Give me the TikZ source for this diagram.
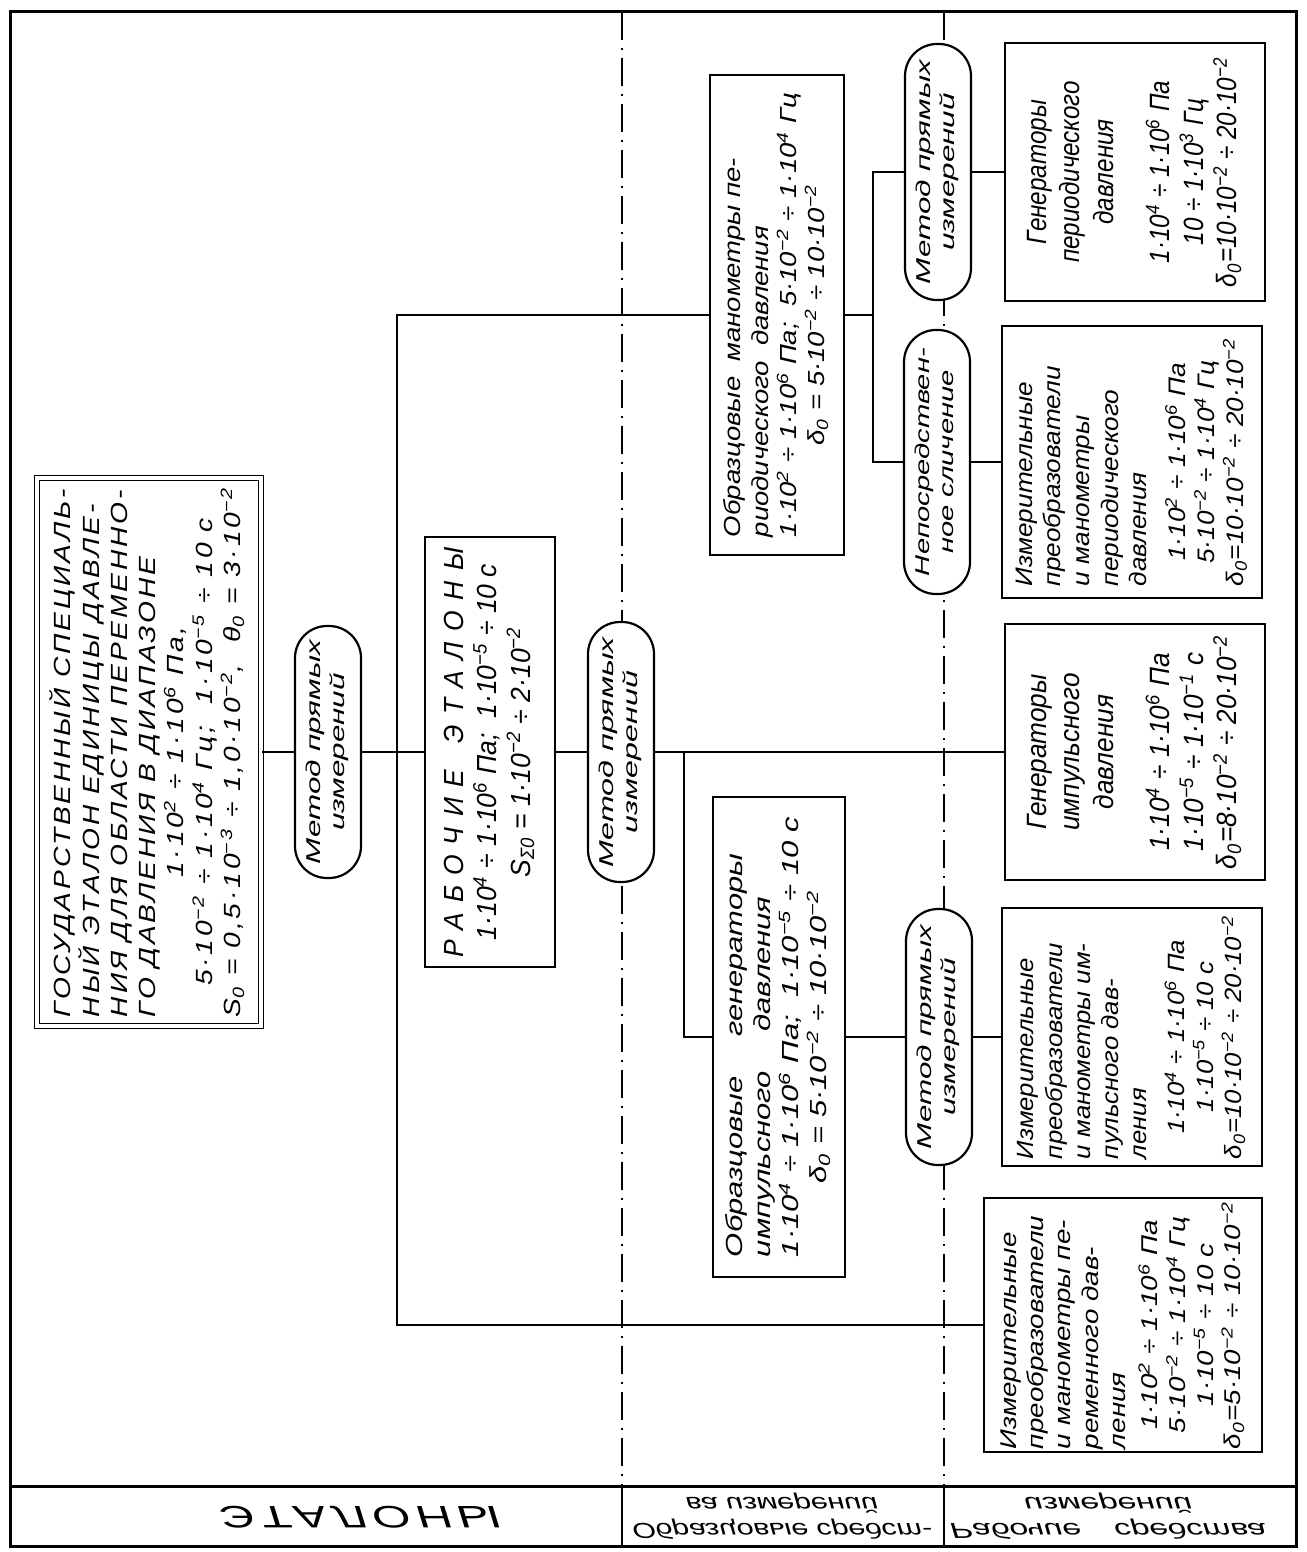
\documentclass[tikz,border=0pt]{standalone}
\usepackage{fontspec}
\usepackage{graphicx}
\setmainfont{Liberation Sans}

\newcommand{\tp}[1]{·10\textsuperscript{#1}}
\newcommand{\dz}{δ\textsubscript{0}}
\newcommand{\fm}[1]{\multicolumn{1}{@{}c@{}}{#1}}
\newcommand{\blk}[4]{\rotatebox{90}{\resizebox*{#1}{#2}{\begin{tabular}{@{}#3@{}}#4\end{tabular}}}}
\newcommand{\flip}[1]{\scalebox{1}[-1]{#1}}

\begin{document}
\begin{tikzpicture}[x=0.5pt,y=-0.5pt,
    font=\itshape\fontsize{10}{12}\selectfont,
    box/.style={draw,line width=1.3pt,fill=white,inner sep=0pt},
    oval/.style={draw,line width=1.1pt,fill=white,inner sep=0pt,
        rounded corners=16pt,minimum width=33pt,minimum height=128pt},
    link/.style={line width=1pt},
    border/.style={line width=1.5pt},
    axis/.style={line width=0.8pt,dash pattern=on 14pt off 4pt on 1pt off 4pt}]
    \useasboundingbox (0,0) rectangle (1306,1552);

    % frame and columns
    \draw[border] (10,12) rectangle (1296,1546);
    \draw[border] (10,1486) -- (1296,1486);
    \draw[axis] (622,12) -- (622,1486);
    \draw[axis] (944,12) -- (944,1486);
    \draw[link] (622,1486) -- (622,1546);
    \draw[link] (944,1486) -- (944,1546);

    \node (et) at (360,1517)
        {\flip{\resizebox*{140pt}{11pt}{\addfontfeatures{LetterSpace=12}ЭТАЛОНЫ}}};
    \node (obrl) at (782,1516)
        {\flip{\resizebox*{150pt}{26pt}{\begin{tabular}{@{}c@{}}Образцовые средст-\\ва измерений\end{tabular}}}};
    \node (rabl) at (1108,1516)
        {\flip{\resizebox*{158pt}{26pt}{\begin{tabular}{@{}c@{}}Рабочие\quad средства\\измерений\end{tabular}}}};

    % standards
    \node[box,double,double distance=1.6pt,line width=0.9pt,minimum width=112pt,minimum height=274pt,
        font=\itshape\fontsize{10}{12}\selectfont\addfontfeatures{LetterSpace=10}] (gos) at (149,752)
        {\blk{265pt}{100pt}{l}{ГОСУДАРСТВЕННЫЙ СПЕЦИАЛЬ-\\НЫЙ ЭТАЛОН ЕДИНИЦЫ ДАВЛЕ-\\НИЯ ДЛЯ ОБЛАСТИ ПЕРЕМЕННО-\\ГО ДАВЛЕНИЯ В ДИАПАЗОНЕ\\
        \fm{1\tp{2} ÷ 1\tp{6} Па,}\\\fm{5\tp{−2} ÷ 1\tp{4} Гц; \ 1\tp{−5} ÷ 10 с}\\
        \fm{S\textsubscript{0} = 0,5\tp{−3} ÷ 1,0\tp{−2}, \ θ\textsubscript{0} = 3\tp{−2}}}};
    \node[oval,minimum height=126pt] (m1) at (328,752) {\blk{112pt}{24pt}{c}{Метод прямых\\измерений}};
    \node[box,minimum width=65pt,minimum height=215pt] (rab) at (490,752)
        {\blk{205pt}{50pt}{c}{{\addfontfeatures{LetterSpace=40}РАБОЧИЕ\quad ЭТАЛОНЫ}\\
        1\tp{4} ÷ 1\tp{6} Па; \ 1\tp{−5} ÷ 10 с\\S\textsubscript{Σ0} = 1\tp{−2} ÷ 2\tp{−2}}};
    \node[oval,minimum height=130pt] (m2) at (621,752) {\blk{115pt}{24pt}{c}{Метод прямых\\измерений}};

    % secondary standards
    \node[box,minimum width=67pt,minimum height=240pt] (obrman) at (777,315)
        {\blk{222pt}{56pt}{l}{Образцовые \ манометры пе-\\риодического \ давления\\
        \fm{1\tp{2} ÷ 1\tp{6} Па; \ 5\tp{−2} ÷ 1\tp{4} Гц}\\\fm{\dz{} = 5\tp{−2} ÷ 10\tp{−2}}}};
    \node[box,minimum width=66pt,minimum height=240pt] (obrgen) at (779,1037)
        {\blk{220pt}{56pt}{l}{Образцовые \quad генераторы\\импульсного \quad давления\\
        \fm{1\tp{4} ÷ 1\tp{6} Па; \ 1\tp{−5} ÷ 10 с}\\\fm{\dz{} = 5\tp{−2} ÷ 10\tp{−2}}}};
    \node[oval] (m4) at (938,172) {\blk{112pt}{24pt}{c}{Метод прямых\\измерений}};
    \node[oval,minimum height=132pt] (m5) at (937,462) {\blk{114pt}{24pt}{c}{Непосредствен-\\ное сличение}};
    \node[oval] (m3) at (939,1037) {\blk{112pt}{24pt}{c}{Метод прямых\\измерений}};

    % working instruments
    \node[box,minimum width=130pt,minimum height=129pt] (genper) at (1135,172)
        {\blk{115pt}{112pt}{c}{Генераторы\\периодического\\давления\\[8pt]
        1\tp{4} ÷ 1\tp{6} Па\\10 ÷ 1\tp{3} Гц\\\dz{}=10\tp{−2} ÷ 20\tp{−2}}};
    \node[box,minimum width=130pt,minimum height=136pt] (measper) at (1132,462)
        {\blk{124pt}{120pt}{l}{Измерительные\\преобразователи\\и манометры\\периодического\\давления\\[4pt]
        \fm{1\tp{2} ÷ 1\tp{6} Па}\\\fm{5\tp{−2} ÷ 1\tp{4} Гц}\\\fm{\dz{}=10\tp{−2} ÷ 20\tp{−2}}}};
    \node[box,minimum width=130pt,minimum height=128pt] (genimp) at (1135,752)
        {\blk{117pt}{112pt}{c}{Генераторы\\импульсного\\давления\\[8pt]
        1\tp{4} ÷ 1\tp{6} Па\\1\tp{−5} ÷ 1\tp{−1} с\\\dz{}=8\tp{−2} ÷ 20\tp{−2}}};
    \node[box,minimum width=130pt,minimum height=129pt] (measimp) at (1132,1037)
        {\blk{122pt}{118pt}{l}{Измерительные\\преобразователи\\и манометры им-\\пульсного дав-\\ления\\[4pt]
        \fm{1\tp{4} ÷ 1\tp{6} Па}\\\fm{1\tp{−5} ÷ 10 с}\\\fm{\dz{}=10\tp{−2} ÷ 20\tp{−2}}}};
    \node[box,minimum width=139pt,minimum height=127pt] (measvar) at (1123,1325)
        {\blk{124pt}{126pt}{l}{Измерительные\\преобразователи\\и манометры пе-\\ременного дав-\\ления\\[2pt]
        \fm{1\tp{2} ÷ 1\tp{6} Па}\\\fm{5\tp{−2} ÷ 1\tp{4} Гц}\\\fm{1\tp{−5} ÷ 10 с}\\\fm{\dz{}=5\tp{−2} ÷ 10\tp{−2}}}};

    % connections
    \coordinate (bb) at (397,1325);
    \coordinate (br) at (684,752);
    \coordinate (br2) at (873,315);
    \draw[link] (gos) -- (m1) -- (rab) -- (m2) -- (genimp);
    \draw[link] (obrman) -| (bb) -- (measvar);
    \draw[link] (br) |- (obrgen);
    \draw[link] (obrgen) -- (m3) -- (measimp);
    \draw[link] (obrman) -- (br2);
    \draw[link] (m4) -| (br2) |- (m5);
    \draw[link] (m4) -- (genper);
    \draw[link] (m5) -- (measper);
\end{tikzpicture}
\end{document}
